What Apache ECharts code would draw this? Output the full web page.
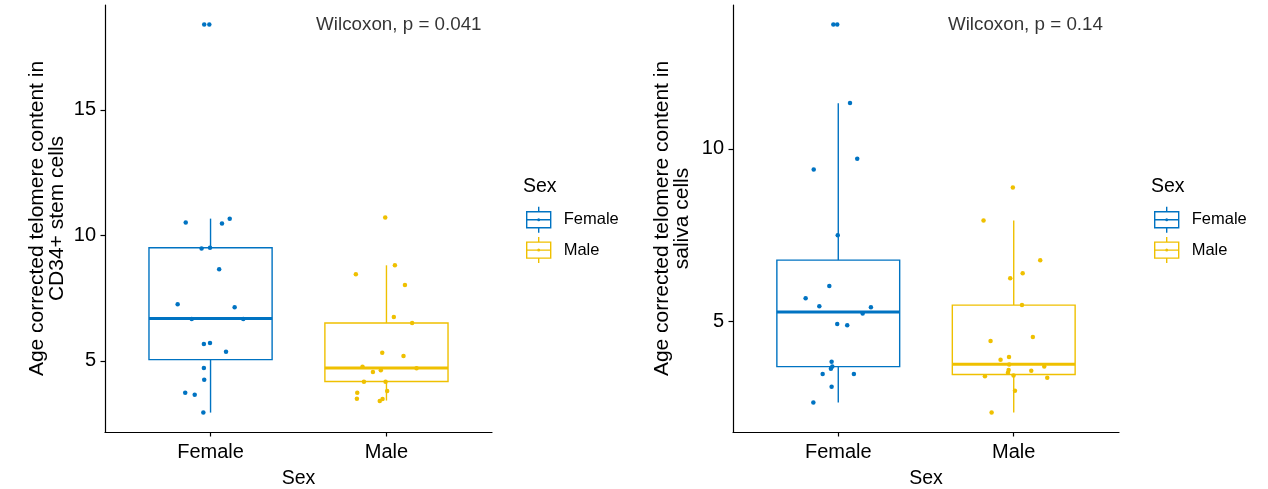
<!DOCTYPE html>
<html><head><meta charset="utf-8">
<script src="https://cdn.jsdelivr.net/npm/echarts@6/dist/echarts.min.js"></script>
<style>html,body{margin:0;padding:0;background:#fff}#c{width:1268px;height:489px}</style>
</head><body><div id="c"></div>
<script>
const categories = ['Female', 'Male'];
const yTicksCD34 = [5, 10, 15];
const yTicksSaliva = [5, 10];
const cd34Female = [18.41,18.41,10.52,10.48,10.67,9.48,9.51,8.65,7.26,7.14,6.67,6.67,5.67,5.71,5.36,4.72,4.25,3.73,3.65,2.94];
const cd34FemaleJitter = [-0.036,-0.007,-0.141,0.065,0.109,-0.051,-0.003,0.049,-0.187,0.137,-0.107,0.186,-0.038,-0.003,0.088,-0.038,-0.036,-0.144,-0.090,-0.041];
const cd34Male = [10.71,8.81,8.45,8.02,6.75,6.51,5.32,5.20,4.77,4.71,4.56,4.63,4.17,4.17,3.73,3.80,3.49,3.40,3.48];
const cd34MaleJitter = [-0.007,0.048,-0.174,0.105,0.042,0.146,-0.024,0.097,-0.136,0.171,-0.077,-0.032,-0.128,-0.005,-0.166,0.004,-0.168,-0.038,-0.022];
const salivaFemale = [13.6,13.6,11.33,9.40,9.71,7.50,6.03,5.68,5.45,5.42,5.24,4.93,4.90,3.84,3.70,3.64,3.49,3.49,3.12,2.66];
const salivaFemaleJitter = [-0.028,-0.006,0.067,-0.140,0.108,-0.003,-0.051,-0.186,-0.108,0.186,0.139,-0.006,0.051,-0.038,-0.034,-0.042,-0.089,0.089,-0.038,-0.142];
const salivaMale = [8.88,7.93,6.78,6.40,6.26,5.48,4.56,4.44,3.98,3.90,3.76,3.70,3.60,3.52,3.58,3.42,3.44,3.38,3.00,2.37];
const salivaMaleJitter = [-0.005,-0.172,0.151,0.051,-0.020,0.047,0.109,-0.132,-0.027,-0.075,-0.026,0.174,-0.029,-0.033,0.100,-0.164,-0.001,0.191,0.007,-0.126];
// box statistics: [lower whisker, Q1, median, Q3, upper whisker]
const cd34FemaleBox = [2.94, 5.05, 6.69, 9.51, 10.67];
const cd34MaleBox = [3.42, 4.18, 4.72, 6.51, 8.81];
const salivaFemaleBox = [2.66, 3.70, 5.28, 6.78, 11.32];
const salivaMaleBox = [2.37, 3.47, 3.77, 5.48, 7.93];
const pLabels = ['Wilcoxon, p = 0.041', 'Wilcoxon, p = 0.14'];
const pLabelX = [1.6, 1.625];
const yTitles = ['Age corrected telomere content in\nCD34+ stem cells', 'Age corrected telomere content in\nsaliva cells'];
const xTitle = 'Sex';
const legendTitle = 'Sex';

const colors = ['#0073C2', '#EFC000'];
const FONT = '"Liberation Sans", Arial, Helvetica, sans-serif';

const panels = [
  { values: [cd34Female, cd34Male], jitter: [cd34FemaleJitter, cd34MaleJitter], boxes: [cd34FemaleBox, cd34MaleBox], ticks: yTicksCD34,
    grid: { left: 105, top: 5, width: 387, height: 427 }, nameGap: 38, legendLeft: 526, titleLeft: 523 },
  { values: [salivaFemale, salivaMale], jitter: [salivaFemaleJitter, salivaMaleJitter], boxes: [salivaFemaleBox, salivaMaleBox], ticks: yTicksSaliva,
    grid: { left: 733, top: 5, width: 386, height: 427 }, nameGap: 41, legendLeft: 1154, titleLeft: 1151 }
];

function boxRender(color) {
  return function (params, api) {
    const x = api.value(0);
    const lo = api.coord([x, api.value(1)]);
    const q1 = api.coord([x - 0.35, api.value(2)]);
    const med = api.coord([x - 0.35, api.value(3)]);
    const q3 = api.coord([x + 0.35, api.value(4)]);
    const hi = api.coord([x, api.value(5)]);
    const lw = 1.4;
    return { type: 'group', children: [
      { type: 'line', shape: { x1: lo[0], y1: lo[1], x2: lo[0], y2: q1[1] }, style: { stroke: color, lineWidth: lw } },
      { type: 'line', shape: { x1: hi[0], y1: hi[1], x2: hi[0], y2: q3[1] }, style: { stroke: color, lineWidth: lw } },
      { type: 'rect', shape: { x: q1[0], y: q3[1], width: q3[0] - q1[0], height: q1[1] - q3[1] }, style: { fill: '#fff', stroke: color, lineWidth: lw } },
      { type: 'line', shape: { x1: q1[0], y1: med[1], x2: q3[0], y2: med[1] }, style: { stroke: color, lineWidth: 3 } }
    ] };
  };
}

const keyPath = 'path://M0,5 L24,5 L24,21 L0,21 Z M0,13 L24,13 M12,0 L12,5 M12,21 L12,26 M11.2,13 a0.8,0.8 0 1,0 1.6,0 a0.8,0.8 0 1,0 -1.6,0';

const option = { animation: false, backgroundColor: '#fff', grid: [], xAxis: [], yAxis: [], series: [], legend: [], title: [] };

panels.forEach((p, gi) => {
  const all = p.values[0].concat(p.values[1]);
  const vmin = Math.min(...all), vmax = Math.max(...all);
  const pad = (vmax - vmin) * 0.05;
  option.grid.push(Object.assign({ outerBoundsMode: 'none', containLabel: false }, p.grid));
  option.xAxis.push({
    type: 'value', gridIndex: gi, min: 0.4, max: 2.6,
    axisLine: { show: true, onZero: false, lineStyle: { color: '#000', width: 1.2 } },
    axisTick: { show: true, length: 4.5, customValues: [1, 2], lineStyle: { color: '#000', width: 1.2 } },
    axisLabel: { customValues: [1, 2], formatter: v => categories[Math.round(v) - 1], color: '#000', fontSize: 20, margin: 10, fontFamily: FONT },
    splitLine: { show: false },
    name: xTitle, nameLocation: 'middle', nameGap: 37,
    nameTextStyle: { color: '#000', fontSize: 19.5, fontFamily: FONT }
  });
  option.yAxis.push({
    type: 'value', gridIndex: gi, min: vmin - pad, max: vmax + pad,
    axisLine: { show: true, onZero: false, lineStyle: { color: '#000', width: 1.2 } },
    axisTick: { show: true, length: 4.5, customValues: p.ticks, lineStyle: { color: '#000', width: 1.2 } },
    axisLabel: { customValues: p.ticks, color: '#000', fontSize: 20, margin: 9, fontFamily: FONT },
    splitLine: { show: false },
    name: yTitles[gi], nameLocation: 'middle', nameRotate: 90, nameGap: p.nameGap,
    nameTextStyle: { color: '#000', fontSize: 21, lineHeight: 20, fontFamily: FONT, align: 'center' }
  });
  categories.forEach((c, k) => {
    option.series.push({
      name: c, type: 'custom', xAxisIndex: gi, yAxisIndex: gi,
      itemStyle: { color: colors[k] },
      renderItem: boxRender(colors[k]),
      encode: { x: 0, y: [1, 2, 3, 4, 5] },
      data: [[k + 1].concat(p.boxes[k])], z: 2
    });
  });
  categories.forEach((c, k) => {
    option.series.push({
      name: c, type: 'scatter', xAxisIndex: gi, yAxisIndex: gi,
      symbol: 'circle', symbolSize: 4.5,
      itemStyle: { color: colors[k], opacity: 1 },
      data: p.values[k].map((v, i) => [k + 1 + p.jitter[k][i], v]), z: 3
    });
  });
  option.series.push({
    name: 'pvalue', type: 'scatter', xAxisIndex: gi, yAxisIndex: gi, silent: true,
    symbolSize: 0, data: [[pLabelX[gi], vmax]],
    label: { show: true, position: 'right', distance: 0, formatter: pLabels[gi], color: '#000', fontSize: 18.8, fontFamily: FONT }
  });
  option.legend.push({
    orient: 'vertical', left: p.legendLeft, top: 206, padding: 0, itemWidth: 24, itemHeight: 26, itemGap: 3,
    selectedMode: false,
    textStyle: { fontSize: 16.5, color: '#000', fontFamily: FONT, padding: [0, 0, 0, 8] },
    data: categories.map((c, k) => ({ name: c, icon: keyPath, itemStyle: { color: 'transparent', borderColor: colors[k], borderWidth: 1.4 } }))
  });
  option.title.push({ text: legendTitle, left: p.titleLeft, top: 177, padding: 0, textStyle: { fontSize: 19.5, fontWeight: 'normal', color: '#000', fontFamily: FONT } });
});

const chart = echarts.init(document.getElementById('c'), null, { renderer: 'canvas' });
chart.setOption(option);
</script>
</body></html>
